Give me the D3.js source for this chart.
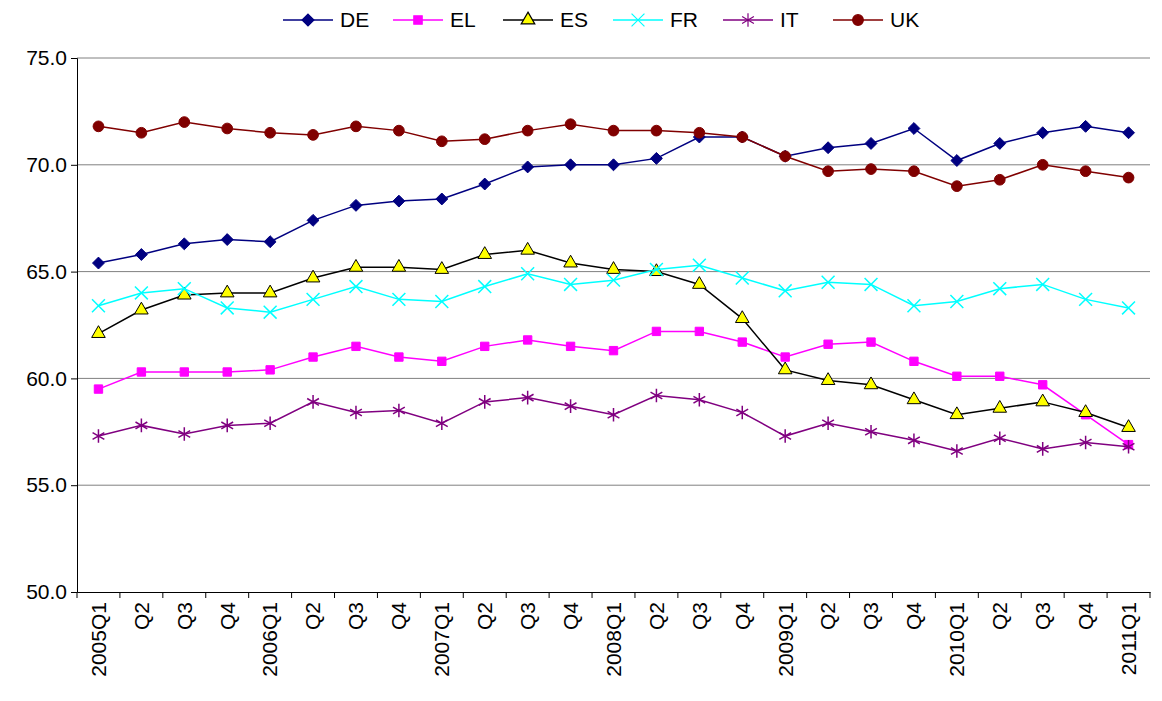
<!DOCTYPE html>
<html>
<head>
<script src="https://d3js.org/d3.v7.min.js"></script>
<style>body{margin:0;background:#fff;font-family:"Liberation Sans",Arial,sans-serif}</style>
</head>
<body>
<svg id="chart" width="1162" height="701"></svg>
<script>
const quarters = ["2005Q1","Q2","Q3","Q4","2006Q1","Q2","Q3","Q4","2007Q1","Q2","Q3","Q4","2008Q1","Q2","Q3","Q4","2009Q1","Q2","Q3","Q4","2010Q1","Q2","Q3","Q4","2011Q1"];
const DE = [65.4,65.8,66.3,66.5,66.4,67.4,68.1,68.3,68.4,69.1,69.9,70.0,70.0,70.3,71.3,71.3,70.4,70.8,71.0,71.7,70.2,71.0,71.5,71.8,71.5];
const EL = [59.5,60.3,60.3,60.3,60.4,61.0,61.5,61.0,60.8,61.5,61.8,61.5,61.3,62.2,62.2,61.7,61.0,61.6,61.7,60.8,60.1,60.1,59.7,58.3,56.9];
const ES = [62.1,63.2,63.9,64.0,64.0,64.7,65.2,65.2,65.1,65.8,66.0,65.4,65.1,65.0,64.4,62.8,60.4,59.9,59.7,59.0,58.3,58.6,58.9,58.4,57.7];
const FR = [63.4,64.0,64.2,63.3,63.1,63.7,64.3,63.7,63.6,64.3,64.9,64.4,64.6,65.1,65.3,64.7,64.1,64.5,64.4,63.4,63.6,64.2,64.4,63.7,63.3];
const IT = [57.3,57.8,57.4,57.8,57.9,58.9,58.4,58.5,57.9,58.9,59.1,58.7,58.3,59.2,59.0,58.4,57.3,57.9,57.5,57.1,56.6,57.2,56.7,57.0,56.8];
const UK = [71.8,71.5,72.0,71.7,71.5,71.4,71.8,71.6,71.1,71.2,71.6,71.9,71.6,71.6,71.5,71.3,70.4,69.7,69.8,69.7,69.0,69.3,70.0,69.7,69.4];
const yTicks = [50,55,60,65,70,75];

const series = [
  {name:"DE", values:DE, line:"#000080", marker:"diamond", fill:"#000080", stroke:"#000080"},
  {name:"EL", values:EL, line:"#ff00ff", marker:"square", fill:"#ff00ff", stroke:"#ff00ff"},
  {name:"ES", values:ES, line:"#000000", marker:"triangle", fill:"#ffff00", stroke:"#000000"},
  {name:"FR", values:FR, line:"#00ffff", marker:"cross", fill:"none", stroke:"#00ffff"},
  {name:"IT", values:IT, line:"#800080", marker:"star", fill:"none", stroke:"#800080"},
  {name:"UK", values:UK, line:"#800000", marker:"circle", fill:"#800000", stroke:"#800000"}
];

const svg = d3.select("#chart");
const plotL = 77, plotR = 1150, plotT = 58, plotB = 592;

const x = d3.scaleBand().domain(d3.range(quarters.length)).range([plotL, plotR]);
const y = d3.scaleLinear().domain([50, 75]).range([plotB, plotT]);

// gridlines
svg.append("g").selectAll("line").data(yTicks.slice(1)).join("line")
  .attr("x1", plotL).attr("x2", plotR)
  .attr("y1", d => y(d)).attr("y2", d => y(d))
  .attr("stroke", "#808080").attr("stroke-width", 1);

const yAxis = svg.append("g").attr("transform", `translate(${plotL},0)`)
  .call(d3.axisLeft(y).tickValues(yTicks).tickFormat(d3.format(".1f")).tickSize(6));
yAxis.selectAll("text").style("font-size", "21px").attr("fill", "#000").attr("dx", "-1");
yAxis.select(".domain").attr("stroke", "#000");

const xAxis = svg.append("g").attr("transform", `translate(0,${plotB})`)
  .call(d3.axisBottom(x).tickFormat(i => quarters[i]).tickSize(0));
xAxis.select(".domain").attr("stroke", "#000");
xAxis.selectAll("text").style("font-size", "21px").attr("fill", "#000")
  .attr("transform", "rotate(-90)").attr("text-anchor", "end")
  .attr("x", -10).attr("y", 0).attr("dy", "0.35em");
xAxis.selectAll(".sep").data(d3.range(quarters.length + 1)).join("line")
  .attr("x1", i => plotL + i * x.step()).attr("x2", i => plotL + i * x.step())
  .attr("y1", 0).attr("y2", 6).attr("stroke", "#000");

const symbols = {
  diamond: d3.symbol().type(d3.symbolDiamond2).size(90),
  square: d3.symbol().type(d3.symbolSquare).size(70),
  triangle: d3.symbol().type(d3.symbolTriangle).size(80),
  cross: d3.symbol().type(d3.symbolX).size(110),
  star: d3.symbol().type(d3.symbolAsterisk).size(130),
  circle: d3.symbol().type(d3.symbolCircle).size(90)
};

const line = d3.line().x((d, i) => x(i) + x.bandwidth() / 2).y(d => y(d));

series.forEach(s => {
  svg.append("path").datum(s.values).attr("fill", "none")
    .attr("stroke", s.line).attr("stroke-width", 1.5).attr("d", line);
  svg.append("g").selectAll("path").data(s.values).join("path")
    .attr("transform", (d, i) => `translate(${x(i) + x.bandwidth() / 2},${y(d)})`)
    .attr("d", symbols[s.marker])
    .attr("fill", s.fill).attr("stroke", s.stroke)
    .attr("stroke-width", s.marker === "cross" || s.marker === "star" ? 1.5 : 1);
});

// legend
const lx = d3.scaleBand().domain(series.map(s => s.name)).range([283, 943]);
const lg = svg.append("g").selectAll("g").data(series).join("g")
  .attr("transform", s => `translate(${lx(s.name)},20)`);
lg.append("line").attr("x1", 0).attr("x2", 50).attr("stroke", s => s.line).attr("stroke-width", 1.5);
lg.append("path").attr("transform", "translate(25,0)").attr("d", s => symbols[s.marker]())
  .attr("fill", s => s.fill).attr("stroke", s => s.stroke).attr("stroke-width", 1.2);
lg.append("text").attr("x", 57).attr("dy", "0.35em").style("font-size", "21px").text(s => s.name);
</script>
</body>
</html>
